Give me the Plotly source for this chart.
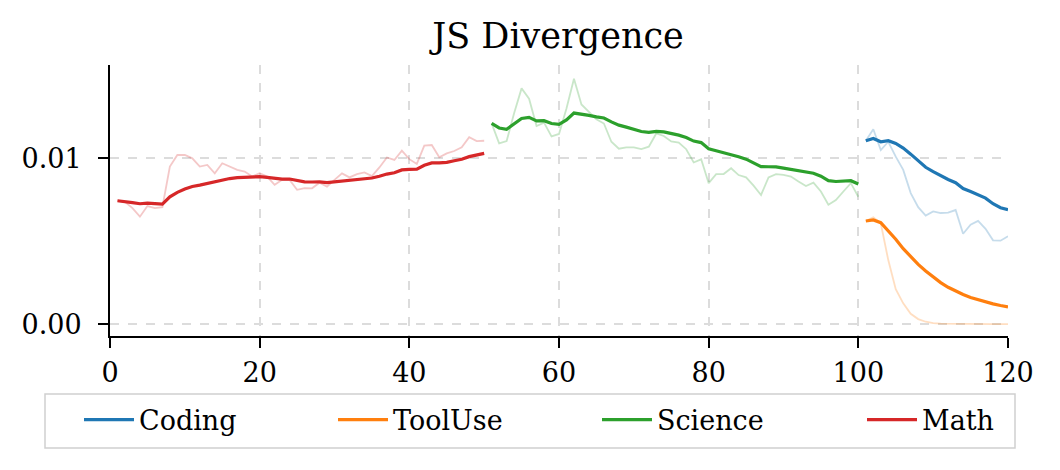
import plotly.graph_objects as go

# training steps per domain
math_steps = list(range(1, 51))
science_steps = list(range(51, 101))
coding_steps = list(range(101, 121))
tooluse_steps = list(range(101, 121))

math_raw = [0.00744, 0.00738, 0.00700, 0.00648, 0.00712, 0.00700, 0.00705, 0.00950, 0.01020, 0.01020,
            0.01000, 0.00950, 0.00960, 0.00910, 0.00970, 0.00950, 0.00930, 0.00920, 0.00890, 0.00910,
            0.00890, 0.00840, 0.00870, 0.00870, 0.00810, 0.00820, 0.00819, 0.00853, 0.00829, 0.00870,
            0.00909, 0.00885, 0.00905, 0.00915, 0.00893, 0.00945, 0.01005, 0.00990, 0.01046, 0.00995,
            0.00966, 0.01076, 0.01080, 0.01006, 0.01030, 0.01044, 0.01066, 0.01127, 0.01104, 0.01106]
math_smooth = [0.00744, 0.00740, 0.00733, 0.00726, 0.00730, 0.00727, 0.00724, 0.00768, 0.00795, 0.00815,
               0.00830, 0.00838, 0.00848, 0.00858, 0.00870, 0.00878, 0.00883, 0.00885, 0.00886, 0.00889,
               0.00885, 0.00878, 0.00875, 0.00875, 0.00865, 0.00858, 0.00857, 0.00858, 0.00854, 0.00858,
               0.00864, 0.00867, 0.00871, 0.00876, 0.00881, 0.00892, 0.00905, 0.00913, 0.00930, 0.00933,
               0.00934, 0.00958, 0.00972, 0.00972, 0.00976, 0.00985, 0.00994, 0.01010, 0.01018, 0.01030]

science_raw = [0.01211, 0.01090, 0.01104, 0.01272, 0.01422, 0.01360, 0.01195, 0.01215, 0.01132, 0.01147,
               0.01300, 0.01480, 0.01325, 0.01281, 0.01235, 0.01210, 0.01100, 0.01058, 0.01066, 0.01066,
               0.01056, 0.01070, 0.01150, 0.01135, 0.01102, 0.01095, 0.01055, 0.00975, 0.00994, 0.00850,
               0.00905, 0.00905, 0.00940, 0.00899, 0.00885, 0.00835, 0.00779, 0.00885, 0.00905, 0.00900,
               0.00890, 0.00860, 0.00833, 0.00853, 0.00800, 0.00720, 0.00748, 0.00800, 0.00850, 0.00768]
science_smooth = [0.01211, 0.01183, 0.01175, 0.01207, 0.01240, 0.01247, 0.01226, 0.01227, 0.01210, 0.01205,
                  0.01232, 0.01273, 0.01267, 0.01259, 0.01250, 0.01243, 0.01220, 0.01200, 0.01188, 0.01175,
                  0.01162, 0.01156, 0.01162, 0.01159, 0.01150, 0.01140, 0.01125, 0.01104, 0.01095, 0.01058,
                  0.01046, 0.01035, 0.01024, 0.01010, 0.00995, 0.00975, 0.00950, 0.00949, 0.00948, 0.00941,
                  0.00933, 0.00922, 0.00914, 0.00910, 0.00892, 0.00865, 0.00860, 0.00862, 0.00865, 0.00845]

coding_raw = [0.01106, 0.01175, 0.01050, 0.01100, 0.01010, 0.00930, 0.00790, 0.00705, 0.00655, 0.00680,
              0.00670, 0.00672, 0.00688, 0.00545, 0.00600, 0.00622, 0.00575, 0.00505, 0.00503, 0.00530]
coding_smooth = [0.01106, 0.01120, 0.01100, 0.01106, 0.01090, 0.01062, 0.01025, 0.00985, 0.00946, 0.00920,
                 0.00895, 0.00872, 0.00853, 0.00818, 0.00800, 0.00782, 0.00760, 0.00726, 0.00702, 0.00690]

tooluse_raw = [0.00622, 0.00644, 0.00608, 0.00386, 0.00210, 0.00125, 0.00062, 0.00030, 0.00014, 0.00006,
               0.00003, 0.00002, 0.00001, 0.00001, 0.00001, 0.0, 0.0, 0.0, 0.0, 0.0]
tooluse_smooth = [0.00622, 0.00628, 0.00612, 0.00565, 0.00512, 0.00455, 0.00405, 0.00360, 0.00320, 0.00282,
                  0.00250, 0.00222, 0.00199, 0.00178, 0.00160, 0.00146, 0.00133, 0.00122, 0.00112, 0.00104]

x_ticks = [0, 20, 40, 60, 80, 100, 120]
y_ticks = [0.0, 0.01]

series = [
    ('Coding', coding_steps, coding_raw, coding_smooth, '#1f77b4'),
    ('ToolUse', tooluse_steps, tooluse_raw, tooluse_smooth, '#ff7f0e'),
    ('Science', science_steps, science_raw, science_smooth, '#2ca02c'),
    ('Math', math_steps, math_raw, math_smooth, '#d62728'),
]

font = 'DejaVu Serif'
W, H = 1052, 462          # page body adds ~8px offset
fig = go.Figure()

# faint raw curves first, underneath
for name, xs, raw, smooth, color in series:
    fig.add_trace(go.Scatter(x=xs, y=raw, mode='lines', line=dict(color=color, width=1.8),
                             opacity=0.25, showlegend=False, hoverinfo='skip'))

# one legend per series so the columns can be spread like matplotlib's ncol=4
legend_ids = ['legend', 'legend2', 'legend3', 'legend4']
for (name, xs, raw, smooth, color), lg in zip(series, legend_ids):
    fig.add_trace(go.Scatter(x=xs, y=smooth, mode='lines', name=name, legend=lg,
                             line=dict(color=color, width=3.2)))

axis_common = dict(showline=True, linecolor='black', linewidth=2, automargin=False,
                   ticks='outside', ticklen=10, tickwidth=2, tickcolor='black',
                   showgrid=True, gridcolor='#dcdcdc', griddash='dash', gridwidth=1.5,
                   zeroline=False, mirror=False,
                   tickfont=dict(family=font, size=27, color='black'))

legend_left = [79, 333, 597, 862]
legends = {}
for lg, left in zip(legend_ids, legend_left):
    legends[lg] = dict(orientation='h', xref='container', x=(left - 8) / W, xanchor='left',
                       yref='container', y=1 - (420 - 8) / H, yanchor='middle',
                       borderwidth=0, bgcolor='rgba(0,0,0,0)', itemwidth=50,
                       font=dict(family=font, size=27, color='black'))

fig.update_layout(
    width=W, height=H,
    margin=dict(l=102, r=52, t=57, b=134, autoexpand=False),
    paper_bgcolor='white', plot_bgcolor='white',
    font=dict(family=font, color='black'),
    title=dict(text='JS Divergence', x=(558 - 8) / W, xanchor='center',
               y=1 - 28 / H, yanchor='middle', yref='container',
               font=dict(family=font, size=35, color='black')),
    xaxis=dict(range=[0, 120], tickvals=x_ticks, ticklabelstandoff=2, **axis_common),
    yaxis=dict(range=[-0.00072, 0.01563], tickvals=y_ticks, tickformat='.2f',
               ticklabelstandoff=11, **axis_common),
    shapes=[dict(type='rect', xref='paper', yref='paper',
                 x0=(45 - 110) / 898, x1=(1015 - 110) / 898,
                 y0=(336 - 394) / 271, y1=(336 - 448) / 271,
                 line=dict(color='#d0d0d0', width=1.5), fillcolor='white', layer='below')],
    **legends,
)

fig.write_html('out.html')
